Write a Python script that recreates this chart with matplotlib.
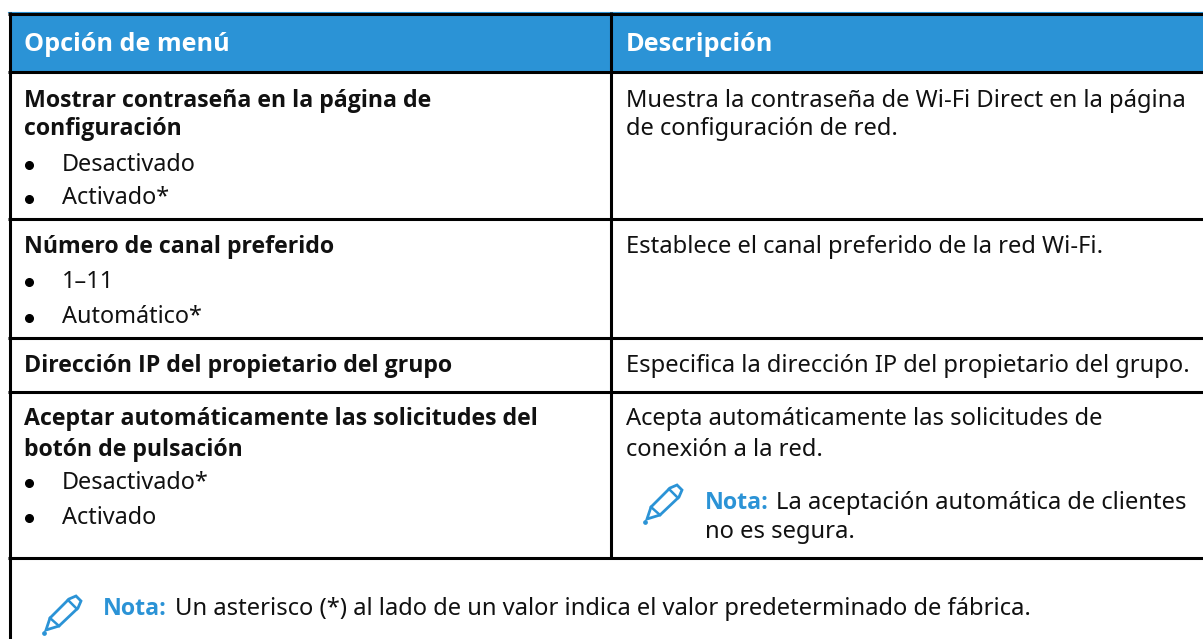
import matplotlib
matplotlib.use("Agg")
import matplotlib.pyplot as plt
from matplotlib.patches import Rectangle, Polygon

W, H = 1203, 639
BLUE = "#2b93d6"
INK = "#111111"
BOLD_FONT = ["Open Sans", "DejaVu Sans"]

header = ["Opción de menú", "Descripción"]
# baseline y, text, bold
left_rows = [
    (107, "Mostrar contraseña en la página de", True),
    (135, "configuración", True),
    (171, "Desactivado", False),
    (204, "Activado*", False),
    (253, "Número de canal preferido", True),
    (288, "1–11", False),
    (323, "Automático*", False),
    (372, "Dirección IP del propietario del grupo", True),
    (425, "Aceptar automáticamente las solicitudes del", True),
    (456, "botón de pulsación", True),
    (489, "Desactivado*", False),
    (524, "Activado", False),
]
right_rows = [
    (107, "Muestra la contraseña de Wi-Fi Direct en la página"),
    (135, "de configuración de red."),
    (253, "Establece el canal preferido de la red Wi-Fi."),
    (372, "Especifica la dirección IP del propietario del grupo."),
    (425, "Acepta automáticamente las solicitudes de"),
    (456, "conexión a la red."),
]
h_lines = [13, 71, 218, 337, 391, 557]
bullet_rows = [165, 199, 282, 318, 483, 518]

plt.rcParams["font.family"] = ["Noto Sans", "DejaVu Sans"]
fig = plt.figure(figsize=(W / 100, H / 100), dpi=100)
ax = fig.add_axes([0, 0, 1, 1])
ax.set_xlim(0, W)
ax.set_ylim(H, 0)
ax.axis("off")


def pencil(x, y):
    body = [(3, 35), (7, 23), (26, 4), (33, 1), (38, 6), (35, 13), (16, 31)]
    ax.add_patch(Polygon([(x + a, y + b) for a, b in body], fill=False, ec=BLUE, lw=2))
    for (a, b), (c, d) in [((7, 23), (16, 31)), ((25, 5), (34, 14))]:
        ax.plot([x + a, x + c], [y + b, y + d], color=BLUE, lw=1.8)
    ax.plot(x + 1, y + 38, "o", color=BLUE, ms=2.4)


ax.add_patch(Rectangle((9, 13), W, 58, color=BLUE, lw=0))
ax.plot([8, W], [11.5, 11.5], color=BLUE, lw=0.8)
for y in h_lines:
    ax.plot([8, W], [y + 0.5, y + 0.5], color="black", lw=2.2, solid_capstyle="butt")
ax.plot([10, 10], [12, H], color="black", lw=2.2, solid_capstyle="butt")
ax.plot([611, 611], [12, 557], color="black", lw=2.2, solid_capstyle="butt")

fs = 17.1
fs_bold = 16.7
ax.text(24, 51, header[0], color="white", fontsize=18.2, weight="bold", family=BOLD_FONT, va="baseline")
ax.text(626, 51, header[1], color="white", fontsize=18.2, weight="bold", family=BOLD_FONT, va="baseline")
for y, s, bold in left_rows:
    if bold:
        ax.text(24, y, s, fontsize=fs_bold, weight="bold", family=BOLD_FONT, va="baseline", color=INK)
    else:
        ax.text(62, y, s, fontsize=fs - 0.2, va="baseline", color=INK)
for y in bullet_rows:
    ax.plot(28.5, y, "o", color="black", ms=5.5)
for y, s in right_rows:
    ax.text(626, y, s, fontsize=fs, va="baseline", color=INK)

pencil(644, 484)
ax.text(705, 509, "Nota:", fontsize=fs_bold, weight="bold", family=BOLD_FONT, color=BLUE, va="baseline")
ax.text(776, 509, "La aceptación automática de clientes", fontsize=fs, va="baseline", color=INK)
ax.text(705, 538, "no es segura.", fontsize=fs, va="baseline", color=INK)
pencil(43, 595)
ax.text(103, 615, "Nota:", fontsize=fs_bold, weight="bold", family=BOLD_FONT, color=BLUE, va="baseline")
ax.text(175, 615, "Un asterisco (*) al lado de un valor indica el valor predeterminado de fábrica.",
        fontsize=fs, va="baseline", color=INK)

fig.savefig("out.png", dpi=100)
